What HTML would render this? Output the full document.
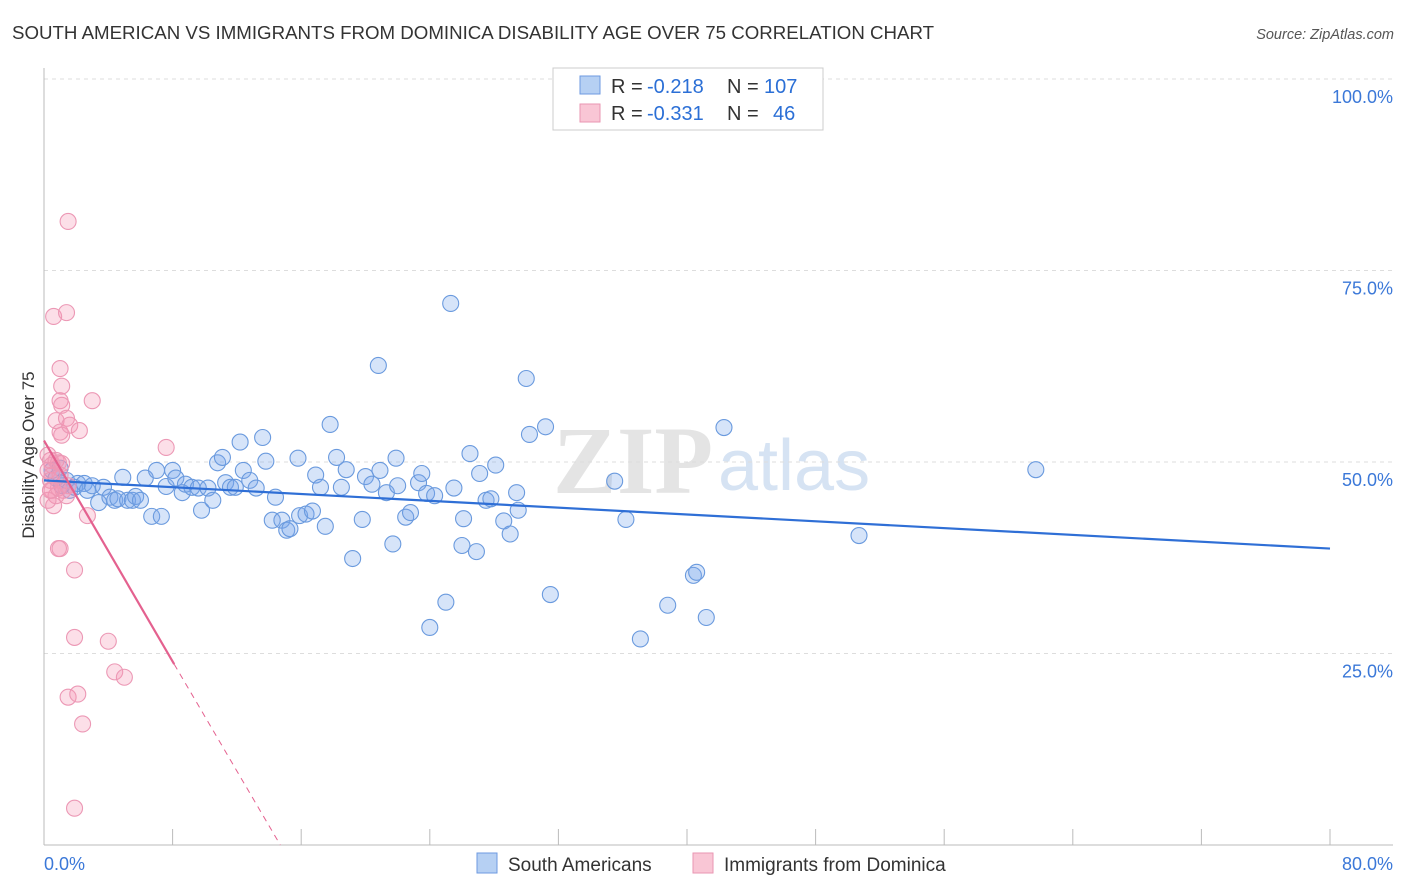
<!DOCTYPE html>
<html><head><meta charset="utf-8"><style>
body{margin:0;background:#fff;font-family:"Liberation Sans",sans-serif;}
svg{display:block}
</style></head><body>
<svg id="chart" width="1406" height="892">
<text x="12" y="39" font-size="18.7" fill="#333">SOUTH AMERICAN VS IMMIGRANTS FROM DOMINICA DISABILITY AGE OVER 75 CORRELATION CHART</text>
<text x="1394" y="39" font-size="14.5" fill="#555" font-style="italic" text-anchor="end">Source: ZipAtlas.com</text>
<g>
<text x="553" y="493" font-family="Liberation Serif,serif" font-size="96" fill="#e4e4e4" font-weight="bold">ZIP</text>
<text x="718" y="490" font-size="72" fill="#d6e3f3">atlas</text>
</g>
<g id="grid"></g>
<g id="axes"></g>
<g id="marks"></g>
<text transform="translate(34,455) rotate(-90)" font-size="17" fill="#333" text-anchor="middle">Disability Age Over 75</text>
<g>
<rect x="553" y="68" width="270" height="62" fill="#fff" stroke="#ccc"/>
<rect x="580" y="76" width="20" height="18" fill="#b6d0f3" stroke="#6d9ae0"/>
<rect x="580" y="104" width="20" height="18" fill="#f9c6d5" stroke="#e996b2"/>
<text x="611" y="93" font-size="20" fill="#333">R =</text>
<text x="647" y="93" font-size="20" fill="#2b6fd6">-0.218</text>
<text x="727" y="93" font-size="20" fill="#333">N =</text>
<text x="764" y="93" font-size="20" fill="#2b6fd6">107</text>
<text x="611" y="120" font-size="20" fill="#333">R =</text>
<text x="647" y="120" font-size="20" fill="#2b6fd6">-0.331</text>
<text x="727" y="120" font-size="20" fill="#333">N =</text>
<text x="773" y="120" font-size="20" fill="#2b6fd6">46</text>
</g>
<g>
<rect x="477" y="853" width="20" height="20" fill="#b6d0f3" stroke="#6d9ae0"/>
<text x="508" y="871" font-size="19" fill="#333">South Americans</text>
<rect x="693" y="853" width="20" height="20" fill="#f9c6d5" stroke="#e996b2"/>
<text x="724" y="871" font-size="19" fill="#333">Immigrants from Dominica</text>
</g>
</svg>
<script>
const yTicks=[100,75,50,25];
const yTickLabels=["100.0%","75.0%","50.0%","25.0%"];
const xEndLabels=["0.0%","80.0%"];
const blueX=[0.5,0.75,1.0,1.1,1.4,1.6,1.9,2.1,2.5,2.7,3.0,3.4,3.7,4.1,4.4,4.6,4.9,5.2,5.5,5.7,6.0,6.3,6.7,7.0,7.3,7.6,8.0,8.2,8.6,8.8,9.2,9.6,9.8,10.2,10.5,10.8,11.1,11.3,11.6,11.9,12.2,12.4,12.8,13.2,13.6,13.8,14.2,14.4,14.8,15.1,15.3,15.8,15.9,16.3,16.7,16.9,17.2,17.5,17.8,18.2,18.5,18.8,19.2,19.8,20.0,20.4,20.8,20.9,21.3,21.7,21.9,22.0,22.5,22.8,23.3,23.5,23.8,24.0,24.3,25.0,25.3,25.5,26.0,26.1,26.5,26.9,27.1,27.5,27.8,28.1,28.6,29.0,29.4,29.5,30.0,30.2,31.2,31.5,35.5,36.2,37.1,38.8,40.4,40.6,41.2,42.3,50.7,61.7];
const blueY=[48.9,47.9,49.2,46.9,47.6,46.3,46.7,47.2,47.2,46.3,46.9,44.7,46.7,45.4,45.0,45.2,48.0,45.0,45.0,45.5,45.0,47.9,42.9,48.9,42.9,46.8,48.9,47.9,46.0,47.1,46.7,46.6,43.7,46.6,45.0,49.9,50.6,47.3,46.7,46.7,52.6,48.9,47.6,46.6,53.2,50.1,42.4,45.4,42.4,41.1,41.3,50.5,43.0,43.2,43.6,48.3,46.7,41.6,54.9,50.6,46.7,49.0,37.4,42.5,48.1,47.1,62.6,48.9,46.0,39.3,50.5,46.9,42.8,43.4,47.3,48.5,45.9,28.4,45.6,31.7,70.7,46.6,39.1,42.6,51.1,38.3,48.5,45.0,45.2,49.6,42.3,40.6,46.0,43.7,60.9,53.6,54.6,32.7,47.5,42.5,26.9,31.3,35.2,35.6,29.7,54.5,40.4,49.0];
const pinkX=[0.25,0.4,0.5,0.25,0.4,0.5,0.6,0.75,0.9,0.6,1.4,1.5,1.0,1.1,1.0,1.1,0.75,1.0,1.1,1.4,1.6,2.2,3.0,7.6,0.9,1.0,1.9,2.7,1.9,4.0,4.4,5.0,1.5,2.1,2.4,1.9,0.75,0.5,1.0,0.9,1.2,1.5,0.25,1.4,1.1,0.4];
const pinkY=[50.9,50.2,49.6,48.9,47.6,46.3,44.3,45.6,46.6,69.0,69.5,81.4,62.2,59.9,58.0,57.4,55.4,53.9,53.5,55.7,54.8,54.1,58.0,51.9,38.7,38.7,35.9,43.0,27.1,26.6,22.6,21.9,19.3,19.7,15.8,4.8,50.2,48.3,48.3,49.9,46.3,46.9,45.0,45.6,49.8,46.3];
const blueTrend=[[0,47.6],[80,38.7]];
const pinkTrendSolid=[[0,52.8],[8.1,23.6]];
const pinkTrendDash=[[8.1,23.6],[14.7,0]];

const NS="http://www.w3.org/2000/svg";
const X0=44,X1=1330,YB=845,YT=79;
const sx=v=>X0+(X1-X0)*v/80;
const sy=v=>YB-(YB-YT)*v/100;
function mk(tag,attrs,parent){const e=document.createElementNS(NS,tag);for(const k in attrs)e.setAttribute(k,attrs[k]);parent.appendChild(e);return e;}
const grid=document.getElementById('grid'),axes=document.getElementById('axes'),marks=document.getElementById('marks');
yTicks.forEach((t,i)=>{
 const l=mk('line',{x1:X0,x2:1393,y1:sy(t),y2:sy(t),stroke:'#ddd','stroke-dasharray':'4,4'},grid);
 
 
 const tx=mk('text',{x:1393,y:sy(t)+24,'font-size':18,fill:'#3b78d8','text-anchor':'end'},axes);
 tx.textContent=yTickLabels[i];
 
 
});
const ya=mk('line',{x1:X0,x2:X0,y1:68,y2:YB,stroke:'#bbb'},axes);


const xa=mk('line',{x1:X0,x2:1393,y1:YB,y2:YB,stroke:'#bbb'},axes);


for(let v=8;v<=80;v+=8){
 const t=mk('line',{x1:sx(v),x2:sx(v),y1:YB,y2:YB-16,stroke:'#bbb'},axes);
 
 
}
const xl0=mk('text',{x:44,y:870,'font-size':18,fill:'#3b78d8'},axes);xl0.textContent=xEndLabels[0];


const xl1=mk('text',{x:1393,y:870,'font-size':18,fill:'#3b78d8','text-anchor':'end'},axes);xl1.textContent=xEndLabels[1];


blueX.forEach((x,i)=>{
 const c=mk('circle',{cx:sx(x),cy:sy(blueY[i]),r:8,fill:'rgba(120,165,235,0.3)',stroke:'#6a9ade','stroke-width':1.1},marks);
 
 
});
pinkX.forEach((x,i)=>{
 const c=mk('circle',{cx:sx(x),cy:sy(pinkY[i]),r:8,fill:'rgba(245,150,180,0.3)',stroke:'#ec98b5','stroke-width':1.1},marks);
 
 
});
const bt=mk('line',{x1:sx(blueTrend[0][0]),y1:sy(blueTrend[0][1]),x2:sx(blueTrend[1][0]),y2:sy(blueTrend[1][1]),stroke:'#2f6fd6','stroke-width':2.2},marks);


const pt=mk('line',{x1:sx(pinkTrendSolid[0][0]),y1:sy(pinkTrendSolid[0][1]),x2:sx(pinkTrendSolid[1][0]),y2:sy(pinkTrendSolid[1][1]),stroke:'#e4618f','stroke-width':2.2},marks);


const pd=mk('line',{x1:sx(pinkTrendDash[0][0]),y1:sy(pinkTrendDash[0][1]),x2:sx(pinkTrendDash[1][0]),y2:sy(pinkTrendDash[1][1]),stroke:'#e4618f','stroke-width':1,'stroke-dasharray':'6,5'},marks);


</script>
</body></html>
